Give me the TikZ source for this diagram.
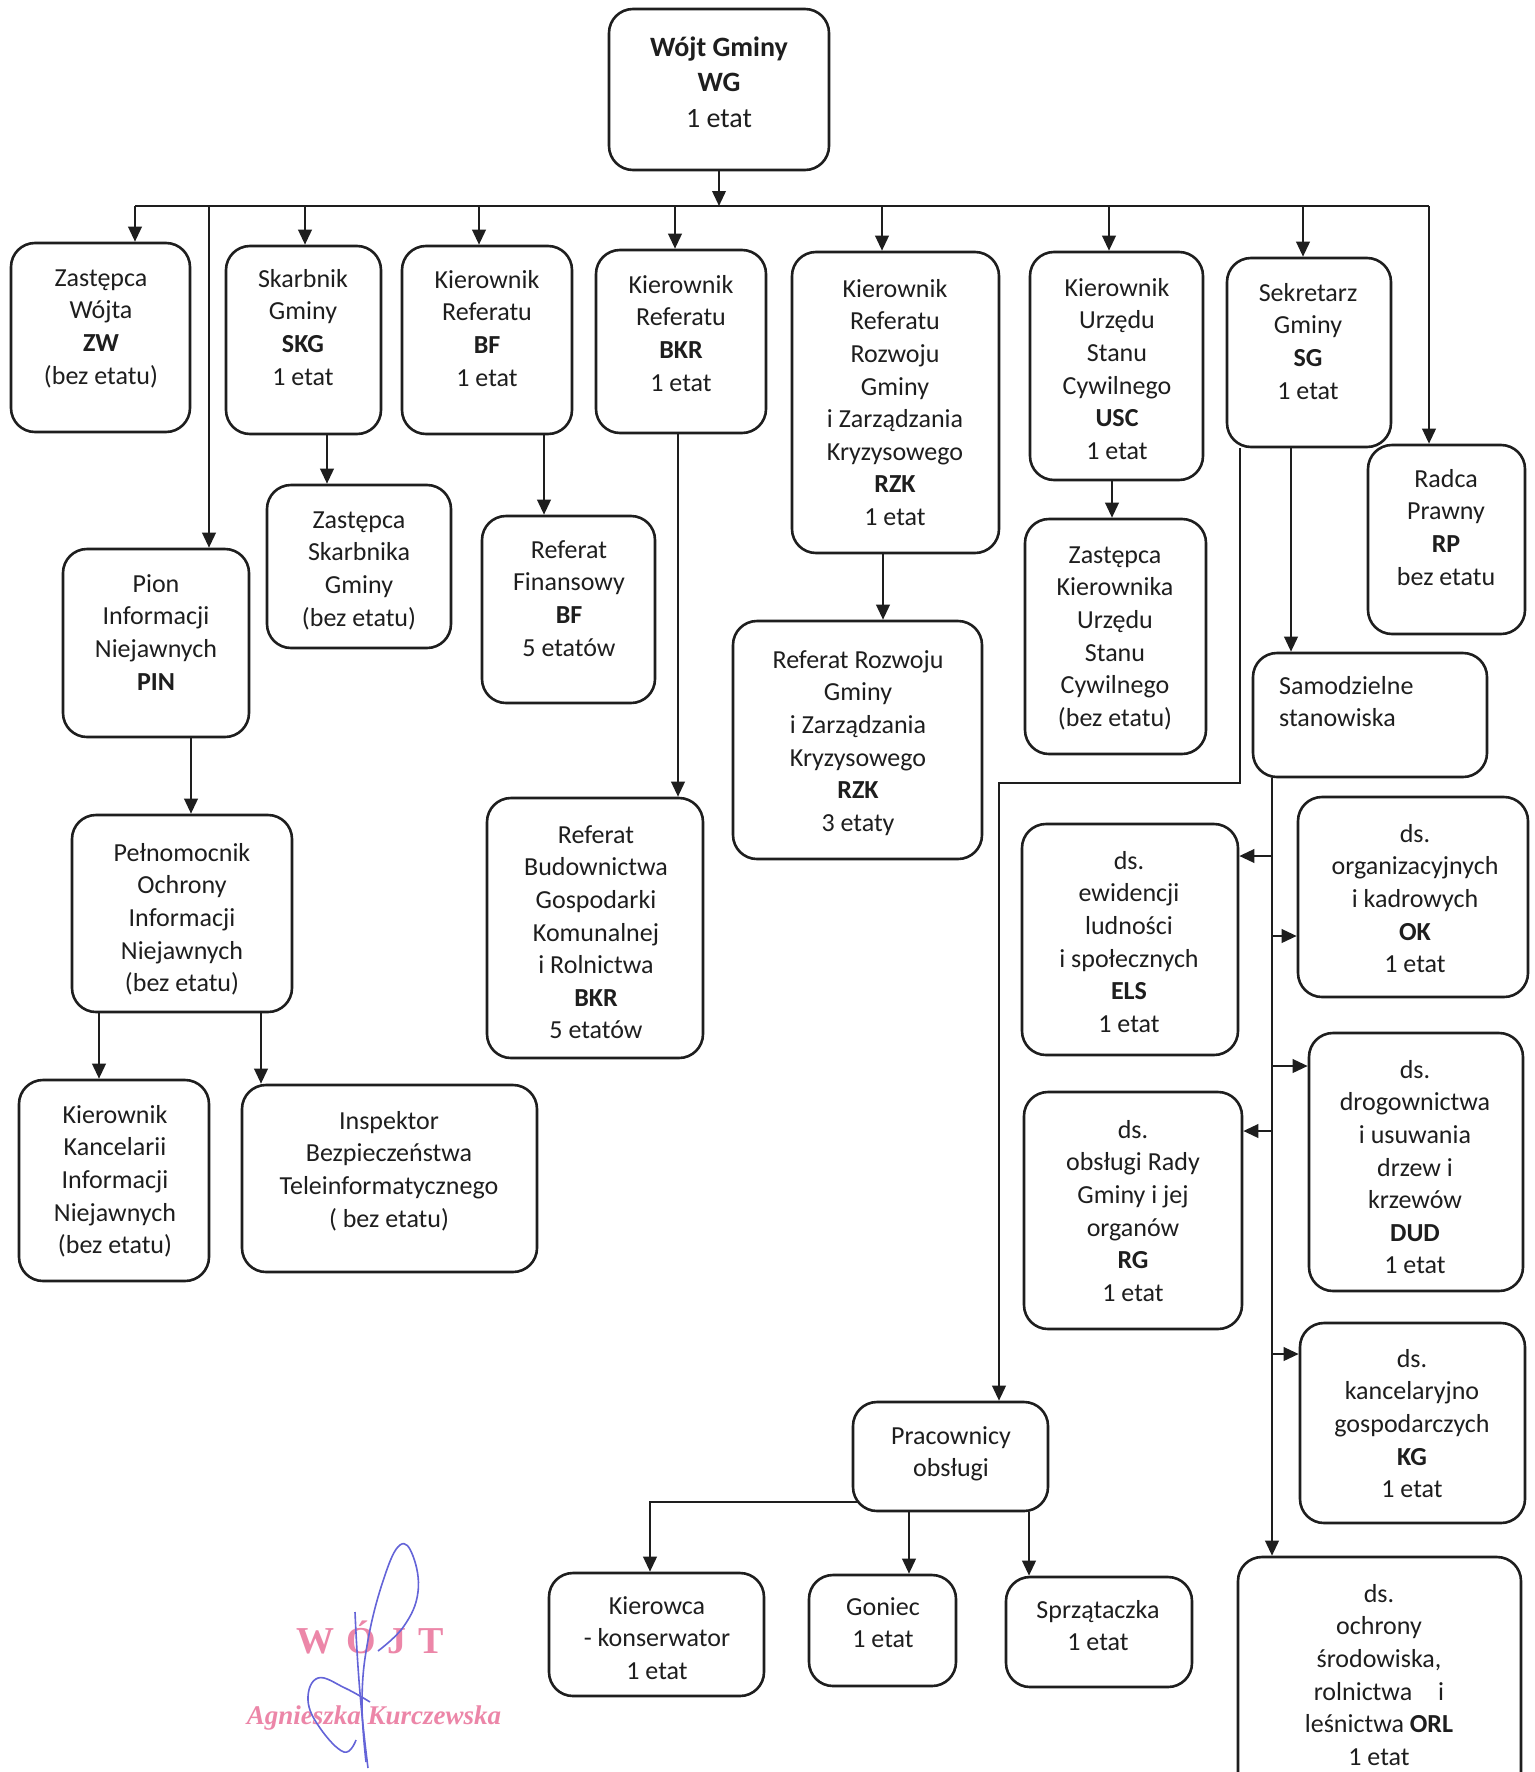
\documentclass[tikz,border=0pt]{standalone}
\usepackage{fontspec}
\setmainfont{Carlito}
\newfontfamily\stampfont{Liberation Serif}
\usetikzlibrary{fit,arrows.meta}
\definecolor{ink}{HTML}{1E1E1E}
\definecolor{stamppink}{HTML}{EC86A8}
\definecolor{sigblue}{HTML}{6464D8}
\tikzset{
  box/.style={draw=ink, line width=2.6pt, rounded corners=24pt, inner sep=0pt, fill=white},
  txt/.style={align=center, inner sep=0pt, text=ink, font=\fontsize{26}{32.6}\selectfont},
  bigtxt/.style={align=center, inner sep=0pt, text=ink, font=\fontsize{28}{35.6}\selectfont},
  conn/.style={draw=ink, line width=2.2pt},
  arr/.style={conn, -{Triangle[length=15pt,width=13.5pt]}},
  stamp/.style={inner sep=0pt, text=stamppink},
  sig/.style={draw=sigblue, line width=1.6pt}
}
\newcommand\orgbox[8]{%
  \node[box, fit={(#2,#3)(#4,#5)}] (#1) {};
  \node[txt, anchor=north] (#1t) at (#6,#7-13) {\rule{0pt}{22pt}#8};}
\begin{document}
\begin{tikzpicture}[x=1pt,y=-1pt]
\useasboundingbox[fill=white] (0,0) rectangle (1534,1772);

% top box
\node[box, fit={(609,9)(829,170)}] (WG) {};
\node[bigtxt, anchor=north] (WGt) at (719,32) {\rule{0pt}{24pt}\textbf{Wójt Gminy}\\\textbf{WG}\\1 etat};

\orgbox{ZW}{11}{243}{190}{432}{101}{277}{Zastępca\\Wójta\\\textbf{ZW}\\(bez etatu)}
\orgbox{SKG}{226}{246}{381}{434}{303}{278}{Skarbnik\\Gminy\\\textbf{SKG}\\1 etat}
\orgbox{KBF}{402}{246}{572}{434}{487}{279}{Kierownik\\Referatu\\\textbf{BF}\\1 etat}
\orgbox{KBKR}{596}{250}{766}{433}{681}{284}{Kierownik\\Referatu\\\textbf{BKR}\\1 etat}
\orgbox{KRZK}{792}{252}{999}{553}{895}{288}{Kierownik\\Referatu\\Rozwoju\\Gminy\\i Zarządzania\\Kryzysowego\\\textbf{RZK}\\1 etat}
\orgbox{KUSC}{1030}{252}{1203}{480}{1117}{287}{Kierownik\\Urzędu\\Stanu\\Cywilnego\\\textbf{USC}\\1 etat}
\orgbox{SG}{1227}{258}{1391}{447}{1308}{292}{Sekretarz\\Gminy\\\textbf{SG}\\1 etat}
\orgbox{RP}{1368}{445}{1525}{634}{1446}{478}{Radca\\Prawny\\\textbf{RP}\\bez etatu}
\orgbox{ZS}{267}{485}{451}{648}{359}{519}{Zastępca\\Skarbnika\\Gminy\\(bez etatu)}
\orgbox{RF}{482}{516}{655}{703}{569}{549}{Referat\\Finansowy\\\textbf{BF}\\5 etatów}
\orgbox{PIN}{63}{549}{249}{737}{156}{583}{Pion\\Informacji\\Niejawnych\\\textbf{PIN}}
\orgbox{PEL}{72}{815}{292}{1012}{182}{852}{Pełnomocnik\\Ochrony\\Informacji\\Niejawnych\\(bez etatu)}
\orgbox{KKIN}{19}{1080}{209}{1281}{115}{1114}{Kierownik\\Kancelarii\\Informacji\\Niejawnych\\(bez etatu)}
\orgbox{INS}{242}{1085}{537}{1272}{389}{1120}{Inspektor\\Bezpieczeństwa\\Teleinformatycznego\\( bez etatu)}
\orgbox{RBKR}{487}{798}{703}{1058}{596}{834}{Referat\\Budownictwa\\Gospodarki\\Komunalnej\\i Rolnictwa\\\textbf{BKR}\\5 etatów}
\orgbox{RRZK}{733}{621}{982}{859}{858}{659}{Referat Rozwoju\\Gminy\\i Zarządzania\\Kryzysowego\\\textbf{RZK}\\3 etaty}
\orgbox{ZUSC}{1025}{519}{1206}{754}{1115}{554}{Zastępca\\Kierownika\\Urzędu\\Stanu\\Cywilnego\\(bez etatu)}
\node[box, fit={(1253,653)(1487,777)}] (SAM) {};
\node[txt, align=left, anchor=north west] (SAMt) at (1279,672) {\rule{0pt}{22pt}Samodzielne\\stanowiska};
\orgbox{ELS}{1022}{824}{1238}{1055}{1129}{860}{ds.\\ewidencji\\ludności\\i społecznych\\\textbf{ELS}\\1 etat}
\orgbox{OK}{1298}{797}{1528}{997}{1415}{833}{ds.\\organizacyjnych\\i kadrowych\\\textbf{OK}\\1 etat}
\orgbox{DUD}{1309}{1033}{1523}{1291}{1415}{1069}{ds.\\drogownictwa\\i usuwania\\drzew i\\krzewów\\\textbf{DUD}\\1 etat}
\orgbox{RG}{1024}{1092}{1242}{1329}{1133}{1129}{ds.\\obsługi Rady\\Gminy i jej\\organów\\\textbf{RG}\\1 etat}
\orgbox{KG}{1300}{1323}{1525}{1523}{1412}{1358}{ds.\\kancelaryjno\\gospodarczych\\\textbf{KG}\\1 etat}
\orgbox{ORL}{1238}{1557}{1521}{1800}{1379}{1593}{ds.\\ochrony\\środowiska,\\rolnictwa\quad i\\leśnictwa \textbf{ORL}\\1 etat}
\orgbox{PRAC}{853}{1402}{1048}{1511}{951}{1435}{Pracownicy\\obsługi}
\orgbox{KIER}{549}{1573}{764}{1696}{657}{1605}{Kierowca\\- konserwator\\1 etat}
\orgbox{GON}{809}{1575}{956}{1686}{883}{1606}{Goniec\\1 etat}
\orgbox{SPRZ}{1006}{1577}{1192}{1687}{1098}{1609}{Sprzątaczka\\1 etat}

% bus
\coordinate (bL) at (135,206);
\coordinate (bR) at (1429,206);
\draw[conn] (bL) -- (bR);
\draw[arr] (WG.south) -- (WG.south |- bL);
\draw[arr] (bL) -- (bL |- ZW.north);
\draw[arr] (bR) -- (bR |- RP.north);
\coordinate (dPIN) at (209,206);
\coordinate (dSKG) at (305,206);
\coordinate (dKBF) at (479,206);
\coordinate (dKBKR) at (675,206);
\coordinate (dKRZK) at (882,206);
\coordinate (dKUSC) at (1109,206);
\coordinate (dSG) at (1303,206);
\draw[arr] (dPIN) -- (dPIN |- PIN.north);
\draw[arr] (dSKG) -- (dSKG |- SKG.north);
\draw[arr] (dKBF) -- (dKBF |- KBF.north);
\draw[arr] (dKBKR) -- (dKBKR |- KBKR.north);
\draw[arr] (dKRZK) -- (dKRZK |- KRZK.north);
\draw[arr] (dKUSC) -- (dKUSC |- KUSC.north);
\draw[arr] (dSG) -- (dSG |- SG.north);

% second level
\coordinate (xZS) at (327,0);
\draw[arr] (xZS |- SKG.south) -- (xZS |- ZS.north);
\coordinate (xRF) at (544,0);
\draw[arr] (xRF |- KBF.south) -- (xRF |- RF.north);
\coordinate (xRB) at (678,0);
\draw[arr] (xRB |- KBKR.south) -- (xRB |- RBKR.north);
\coordinate (xRR) at (883,0);
\draw[arr] (xRR |- KRZK.south) -- (xRR |- RRZK.north);
\coordinate (xZU) at (1112,0);
\draw[arr] (xZU |- KUSC.south) -- (xZU |- ZUSC.north);
\coordinate (xSAM) at (1291,0);
\draw[arr] (xSAM |- SG.south) -- (xSAM |- SAM.north);
\coordinate (xPEL) at (191,0);
\draw[arr] (xPEL |- PIN.south) -- (xPEL |- PEL.north);
\coordinate (xKK) at (99,0);
\draw[arr] (xKK |- PEL.south) -- (xKK |- KKIN.north);
\coordinate (xINS) at (261,0);
\draw[arr] (xINS |- PEL.south) -- (xINS |- INS.north);

% SG to Pracownicy obslugi
\coordinate (p1) at (1240,783);
\coordinate (p2) at (999,783);
\draw[arr] (p1 |- SG.south) -- (p1) -- (p2) -- (p2 |- PRAC.north);

% trunk under Samodzielne stanowiska
\coordinate (tr) at (1272,0);
\draw[arr] (tr |- SAM.south) -- (tr |- ORL.north);
\coordinate (eELS) at (1272,856);
\coordinate (eOK) at (1272,936);
\coordinate (eDUD) at (1272,1066);
\coordinate (eRG) at (1272,1131);
\coordinate (eKG) at (1272,1354);
\draw[arr] (eELS) -- (eELS -| ELS.east);
\draw[arr] (eOK) -- (eOK -| OK.west);
\draw[arr] (eDUD) -- (eDUD -| DUD.west);
\draw[arr] (eRG) -- (eRG -| RG.east);
\draw[arr] (eKG) -- (eKG -| KG.west);

% Pracownicy obslugi children
\coordinate (k1) at (650,1502);
\draw[arr] ([xshift=7pt]PRAC.west |- k1) -- (k1) -- (k1 |- KIER.north);
\coordinate (xGON) at (909,0);
\draw[arr] (xGON |- PRAC.south) -- (xGON |- GON.north);
\coordinate (xSP) at (1029,0);
\draw[arr] (xSP |- PRAC.south) -- (xSP |- SPRZ.north);

% stamp and signature
\node[stamp, font=\stampfont\bfseries\fontsize{38}{40}\selectfont] (stamp1) at (370,1637) {W\hspace{12pt}Ó\hspace{12pt}J\hspace{12pt}T};
\node[stamp, font=\stampfont\bfseries\itshape\fontsize{27}{30}\selectfont] (stamp2) at (374,1718) {Agnieszka Kurczewska};
\draw[sig] plot[smooth, tension=0.7] coordinates {(366,1762) (362,1700) (368,1640) (384,1578) (400,1545) (413,1556) (418,1592) (404,1626) (378,1651)};
\draw[sig] plot[smooth, tension=0.7] coordinates {(370,1702) (345,1688) (318,1678) (308,1700) (320,1728) (344,1752) (356,1740)};
\draw[sig] (355,1612) .. controls (358,1680) and (362,1720) .. (368,1768);
\end{tikzpicture}
\end{document}
